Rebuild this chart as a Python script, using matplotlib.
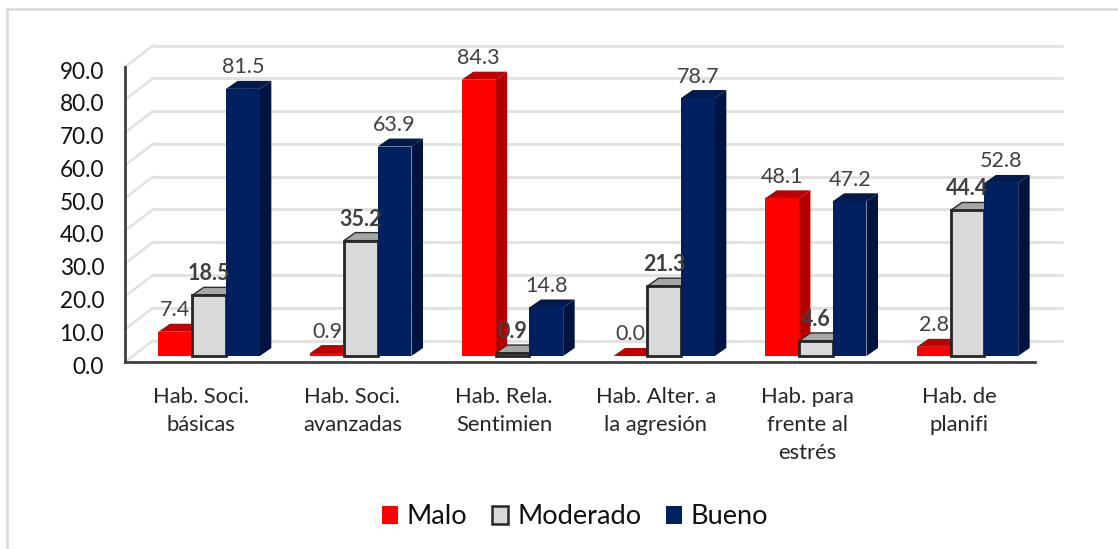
import matplotlib
matplotlib.use('Agg')
import matplotlib.pyplot as plt
from matplotlib.patches import Patch, Polygon
from matplotlib.lines import Line2D
from matplotlib.transforms import ScaledTranslation
import numpy as np

plt.rcParams['font.family'] = ['Lato', 'DejaVu Sans']

categories = ['Hab. Soci.\nbásicas', 'Hab. Soci.\navanzadas', 'Hab. Rela.\nSentimien',
              'Hab. Alter. a\nla agresión', 'Hab. para\nfrente al\nestrés', 'Hab. de\nplanifi']
malo = [7.4, 0.9, 84.3, 0.0, 48.1, 2.8]
moderado = [18.5, 35.2, 0.9, 21.3, 4.6, 44.4]
bueno = [81.5, 63.9, 14.8, 78.7, 47.2, 52.8]
yticks = [0, 10, 20, 30, 40, 50, 60, 70, 80, 90]

W, H = 1118, 549
fig = plt.figure(figsize=(W / 100, H / 100), dpi=100)
ax = fig.add_axes([125 / W, (H - 362) / H, 910 / W, 295 / H])
ax.set_xlim(0, 6)
ax.set_ylim(0, 90)

# pixel -> data factors for the fake 3D depth
px = 6 / 910
py = 90 / 295
wall_dx, wall_dy = 28 * px, 21.5 * py
bar_x0, bar_y0 = 8.3 * px, 6 * py
depth_x, depth_y = 11.5 * px, 8 * py
width = 33.8 * px


def poly(pts, color, z, ec='none', lw=0):
    ax.add_patch(Polygon(pts, closed=True, fc=color, ec=ec, lw=lw, zorder=z,
                         clip_on=False, joinstyle='miter'))


# back wall grid and left wall diagonals
for t in yticks:
    ax.plot([wall_dx, 6 + wall_dx], [t + wall_dy, t + wall_dy], color='#e2e2e2', lw=2.2,
            clip_on=False, zorder=1, solid_capstyle='butt')
    ax.plot([0, wall_dx], [t, t + wall_dy], color='#e2e2e2', lw=1.8, clip_on=False, zorder=1)


def draw_bars(vals, off, front, side, top, z, edge=None, bold=False):
    for i, v in enumerate(vals):
        x = i + 0.5 + off * width - width / 2 + bar_x0
        b = bar_y0
        v_top = b + v
        poly([(x + width, b), (x + width + depth_x, b + depth_y),
              (x + width + depth_x, v_top + depth_y), (x + width, v_top)], side, z)
        poly([(x, v_top), (x + depth_x, v_top + depth_y),
              (x + width + depth_x, v_top + depth_y), (x + width, v_top)], top, z,
             ec='#2b2b2b' if edge else 'none', lw=1.0 if edge else 0)
        if edge:
            ax.bar(x + width / 2, v, width, bottom=b, color=front, edgecolor=edge, linewidth=2,
                   zorder=z + 0.1, clip_on=False)
        else:
            ax.bar(x + width / 2, v, width, bottom=b, color=front, zorder=z + 0.1, clip_on=False)
        ax.annotate('%.1f' % v, (x + width / 2, v_top), xytext=(0, 21.5 * 0.72),
                    textcoords='offset points', ha='center', va='center', fontsize=15.5,
                    color='#404040', fontweight='bold' if bold else 'normal',
                    zorder=20, annotation_clip=False)


draw_bars(malo, -1, '#ff0000', '#b00000', '#c00000', 3)
draw_bars(moderado, 0, '#d9d9d9', '#a6a6a6', '#a6a6a6', 4, edge='#262626', bold=True)
draw_bars(bueno, 1, '#002060', '#00143f', '#001a50', 5)

ax.set_xticks(np.arange(6) + 0.5)
ax.set_xticklabels(categories, fontsize=15.8, color='#262626', linespacing=1.5, va='top')
ax.set_yticks(yticks)
ax.set_yticklabels(['%.1f' % t for t in yticks], fontsize=16.3, color='#111111')
ax.tick_params(axis='both', length=0)
ax.tick_params(axis='x', pad=18)
ax.tick_params(axis='y', pad=15)
shift = ScaledTranslation(0, -3 / 100, fig.dpi_scale_trans)
for lab in ax.get_yticklabels():
    lab.set_transform(lab.get_transform() + shift)

for s in ['top', 'right']:
    ax.spines[s].set_visible(False)
for s in ['left', 'bottom']:
    ax.spines[s].set_color('#404040')
    ax.spines[s].set_linewidth(2)
ax.patch.set_alpha(0)

# light frame round the chart
fig.add_artist(Line2D([7 / W, 7 / W], [0, 1 - 9 / H], color='#d9d9d9', lw=1.8))
fig.add_artist(Line2D([7 / W, 1], [1 - 9 / H, 1 - 9 / H], color='#d9d9d9', lw=1.8))

handles = [Patch(fc='#ff0000', ec='none', label='Malo'),
           Patch(fc='#d9d9d9', ec='#262626', lw=1.8, label='Moderado'),
           Patch(fc='#002060', ec='none', label='Bueno')]
fig.legend(handles=handles, loc='center', bbox_to_anchor=(575 / W, 1 - 517 / H), ncol=3, frameon=False,
           fontsize=19.6, handlelength=0.6, handleheight=0.6, handletextpad=0.32, columnspacing=0.9,
           labelcolor='#111111')

fig.savefig('out.png', dpi=100)
